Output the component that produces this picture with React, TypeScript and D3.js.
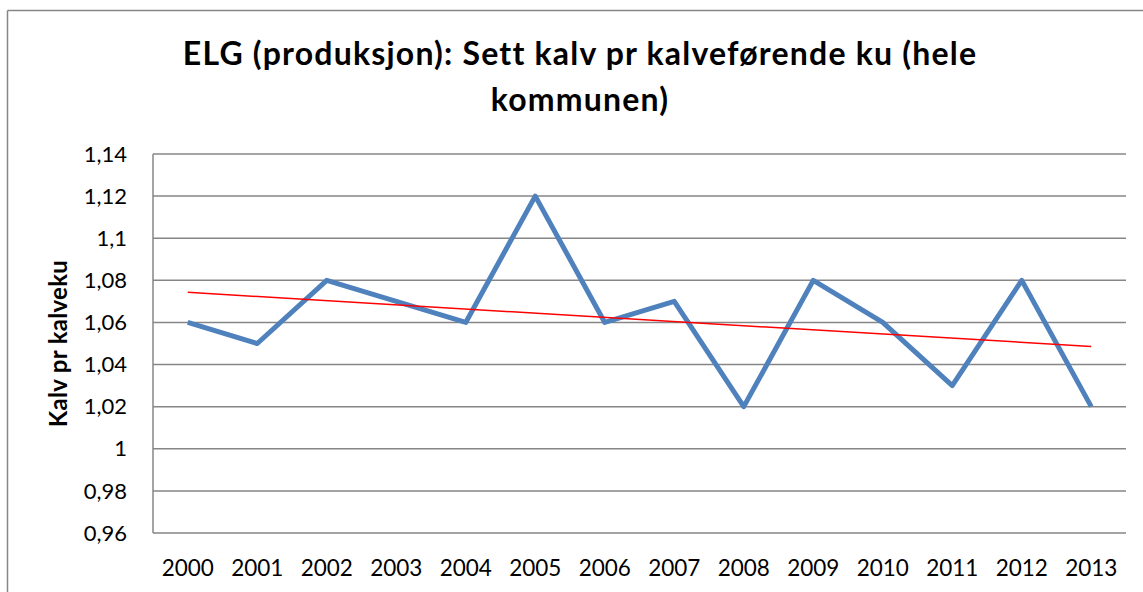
import React, { useEffect } from "react";
import * as d3 from "d3";

const years = ["2000","2001","2002","2003","2004","2005","2006","2007","2008","2009","2010","2011","2012","2013"];
const values = [1.06,1.05,1.08,1.07,1.06,1.12,1.06,1.07,1.02,1.08,1.06,1.03,1.08,1.02];
const yTicks = [0.96,0.98,1.0,1.02,1.04,1.06,1.08,1.1,1.12,1.14];
const titleLines = ["ELG (produksjon): Sett kalv pr kalveførende ku (hele", "kommunen)"];
const yAxisTitle = "Kalv pr kalveku";

export default function App() {
  useEffect(() => {
    document.body.style.margin = "0";
    document.body.style.overflow = "hidden";
    document.documentElement.style.overflow = "hidden";
  }, []);
  const W = 1143, H = 592;
  const left = 153, right = 1126, top = 154, bottom = 533;
  const x = d3.scaleBand().domain(years).range([left, right]);
  const y = d3.scaleLinear().domain([0.96, 1.14]).range([bottom, top]);
  const cx = (yr: string) => (x(yr) as number) + x.bandwidth() / 2;

  const line = d3.line<number>().x((_, i) => cx(years[i])).y(d => y(d));

  // linear trendline (least squares)
  const n = values.length;
  const xm = (n - 1) / 2;
  const ym = d3.mean(values) as number;
  let sxy = 0, sxx = 0;
  values.forEach((v, i) => { sxy += (i - xm) * (v - ym); sxx += (i - xm) ** 2; });
  const slope = sxy / sxx;
  const t0 = ym - slope * xm;
  const t1 = ym + slope * (n - 1 - xm);

  const fmt = (v: number) => String(+v.toFixed(2)).replace(".", ",");

  return (
    <svg width={W} height={H} style={{ position: "fixed", left: 0, top: 0, display: "block" }}
      fontFamily="Lato, 'Open Sans', sans-serif">
      <rect x={0} y={0} width={W} height={H} fill="#fff" />
      <line x1={7.5} x2={W} y1={10.5} y2={10.5} stroke="#868686" strokeWidth={1.5} />
      <line x1={7.5} x2={7.5} y1={10.5} y2={H} stroke="#868686" strokeWidth={1.5} />
      {titleLines.map((t, i) => (
        <text key={i} x={580} y={65 + i * 46} textAnchor="middle" fontSize={32} fontWeight="bold"
          letterSpacing={1.2} fill="#000">{t}</text>
      ))}
      {yTicks.map(t => (
        <g key={t}>
          <line x1={left} x2={right} y1={y(t)} y2={y(t)} stroke="#868686" strokeWidth={1.5} />
          <text x={127} y={y(t)} dy="0.35em" textAnchor="end" fontSize={22} fill="#000">{fmt(t)}</text>
        </g>
      ))}
      <line x1={left} x2={left} y1={top} y2={bottom} stroke="#868686" strokeWidth={1.5} />
      {years.map(yr => (
        <text key={yr} x={cx(yr)} y={576} textAnchor="middle" fontSize={22.5} fill="#000">{yr}</text>
      ))}
      <text transform={`translate(67,${(top + bottom) / 2}) rotate(-90)`} textAnchor="middle" fontSize={24}
        fontWeight="bold" letterSpacing={0.3} fill="#000">{yAxisTitle}</text>
      <path d={line(values) as string} fill="none" stroke="#4F81BD" strokeWidth={5} strokeLinejoin="round" />
      <line x1={cx(years[0])} x2={cx(years[n - 1])} y1={y(t0)} y2={y(t1)} stroke="#FF0000" strokeWidth={1.5} />
    </svg>
  );
}
